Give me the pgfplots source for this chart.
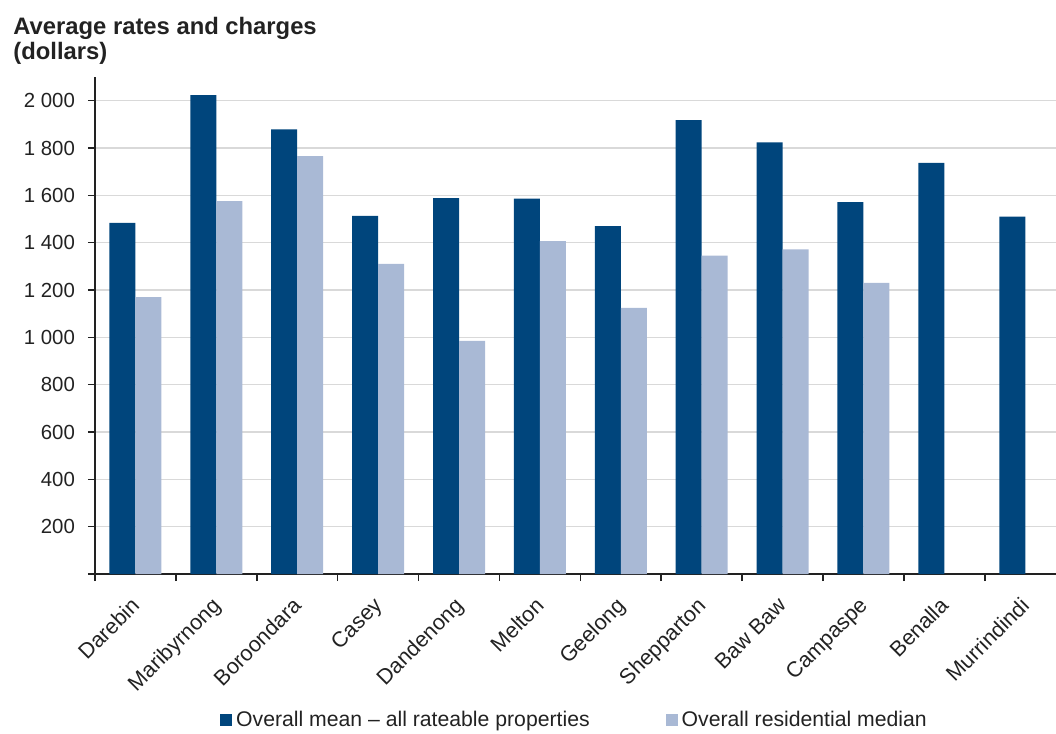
\documentclass[border=0pt]{standalone}
\usepackage{fontspec}
\setmainfont{Liberation Sans}
\usepackage{pgfplots}
\pgfplotsset{compat=1.18}
\definecolor{darkb}{HTML}{00457C}
\definecolor{lightb}{HTML}{A9B9D5}
\definecolor{txt}{HTML}{222222}
\definecolor{gridc}{HTML}{D9D9D9}
\begin{document}
\begin{tikzpicture}
\path[use as bounding box] (-47.5pt,-80pt) rectangle (480.5pt,287pt);
\begin{axis}[
  at={(0pt,0pt)}, anchor=south west,
  scale only axis, width=480.5pt, height=248.5pt,
  xmin=-0.5, xmax=11.38, ymin=0, ymax=2100,
  axis x line*=bottom, axis y line*=left,
  axis line style={draw=txt, line width=0.8pt},
  ybar=0pt, bar width=13pt,
  xtick={0,...,11},
  xticklabels={Darebin,Maribyrnong,Boroondara,Casey,Dandenong,Melton,Geelong,Shepparton,Baw Baw,Campaspe,Benalla,Murrindindi},
  minor xtick={-0.5,0.5,...,10.5},
  major x tick style={draw=none},
  minor x tick style={draw=txt, line width=0.8pt},
  minor tick length=3.5pt,
  major tick length=3.5pt,
  tick align=outside,
  ytick={0,200,...,2000},
  yticklabels={,200,400,600,800,1~000,1~200,1~400,1~600,1~800,2~000},
  ytick style={draw=txt, line width=0.8pt},
  ymajorgrids, major grid style={draw=gridc, line width=0.8pt},
  xticklabel style={rotate=45, anchor=north east, font=\fontsize{10.8}{12}\selectfont, text=txt, inner sep=1pt, xshift=-6.2pt, yshift=-2.1pt},
  yticklabel style={font=\fontsize{10.2}{12}\selectfont, text=txt, xshift=-3pt},
  legend style={at={(0.5,-0.294)}, anchor=center, draw=none, legend columns=2,
    font=\fontsize{10.6}{12}\selectfont, text=txt,
    /tikz/every even column/.append style={column sep=36pt}},
  legend image code/.code={\fill[#1] (0pt,-3pt) rectangle (6pt,3pt);},
  legend cell align=left,
]
\addplot[fill=darkb, draw=none] coordinates {
(0,1484) (1,2023) (2,1879) (3,1513) (4,1588) (5,1586) (6,1470) (7,1918) (8,1824) (9,1571) (10,1737) (11,1510)};
\addplot[fill=lightb, draw=none] coordinates {
(0,1170) (1,1576) (2,1766) (3,1310) (4,985) (5,1406) (6,1124) (7,1345) (8,1372) (9,1230)};
\legend{Overall mean – all rateable properties, Overall residential median}
\end{axis}
\node[anchor=base west, inner sep=0pt, text=txt, font=\bfseries\fontsize{11.9}{13}\selectfont] at (-41pt,269.5pt) {Average rates and charges};
\node[anchor=base west, inner sep=0pt, text=txt, font=\bfseries\fontsize{11.9}{13}\selectfont] at (-41pt,257pt) {(dollars)};
\end{tikzpicture}
\end{document}
